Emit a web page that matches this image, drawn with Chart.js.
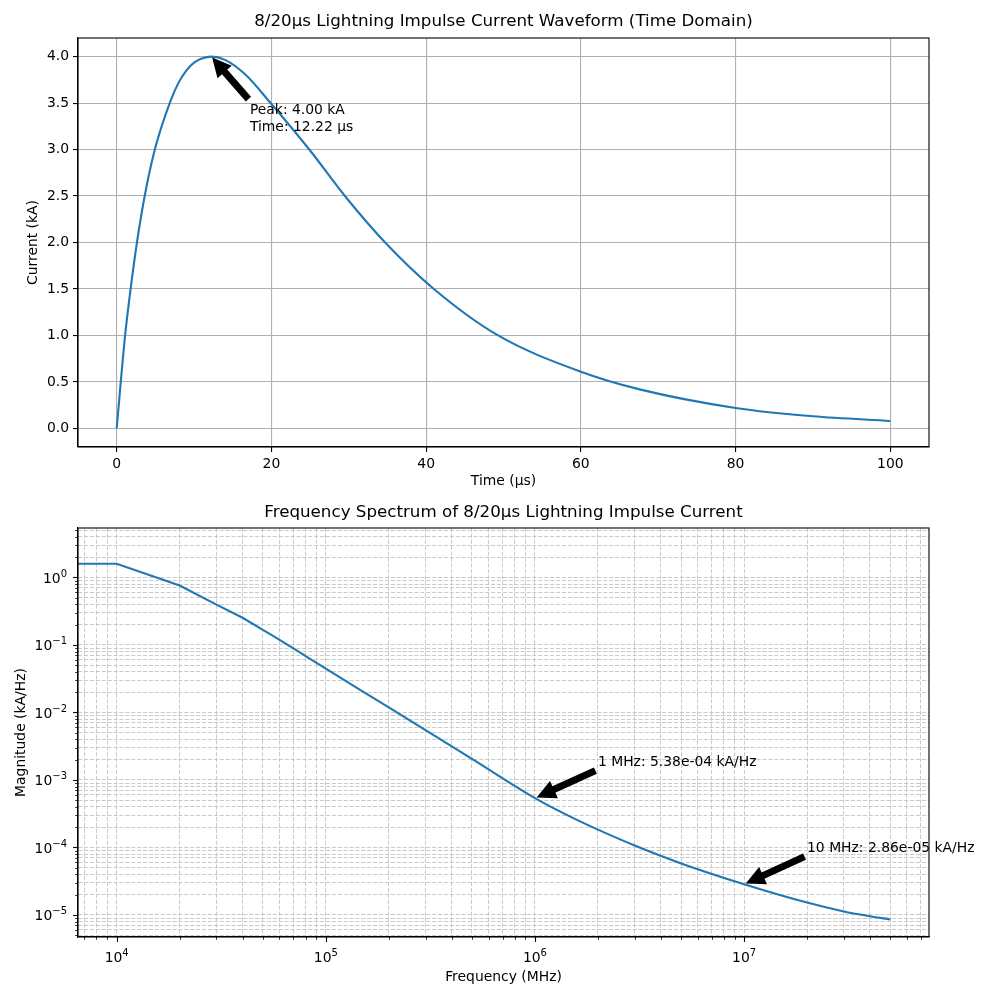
<!DOCTYPE html>
<html>
<head>
<meta charset="utf-8">
<title>8/20µs Lightning Impulse Current</title>
<script src="https://cdn.jsdelivr.net/npm/chart.js@4.4.1/dist/chart.umd.min.js"></script>
<style>
  body { margin: 0; background: #fff; }
  .panel { position: absolute; left: 0; width: 1000px; height: 500px; }
</style>
</head>
<body>
<div class="panel" style="top:0"><canvas id="timeChart" width="1000" height="500"></canvas></div>
<div class="panel" style="top:500px"><canvas id="freqChart" width="1000" height="500"></canvas></div>
<script>
// time domain waveform
const timeUs = [0, 1.09, 1.83, 2.62, 3.62, 4.93, 6.9, 8, 9, 10, 11, 12.22, 14, 16.6, 20, 25, 29.5, 34.7, 41, 49.3, 60, 67.6, 80, 90, 100];
const currentKA = [0, 1.0, 1.52, 2.0, 2.5, 3.0, 3.51, 3.72, 3.85, 3.935, 3.98, 4.0, 3.965, 3.81, 3.49, 2.99, 2.5, 2.0, 1.5, 1.0, 0.61, 0.42, 0.22, 0.13, 0.08];

// spectrum (first entry stands in for the DC bin, off the left of the log axis)
const freqHz = [1e3, 1e4, 2e4, 3e4, 4e4, 5e4, 7e4, 1e5, 2e5, 5e5, 1e6, 1.5e6, 2e6, 3e6, 5e6, 1e7, 2e7, 3e7, 4e7, 5e7];
const magnitude = [1.6, 1.6, 0.76, 0.397, 0.253, 0.168, 0.089, 0.0445, 0.0119, 2.05e-3, 5.38e-4, 2.79e-4, 1.84e-4, 1.07e-4, 5.81e-5, 2.86e-5, 1.53e-5, 1.13e-5, 9.6e-6, 8.6e-6];

// annotated points
const peakTime = 12.22, peakCurrent = 4.0;
const markFreqs = [1e6, 1e7];
const markMags = [5.38e-4, 2.86e-5];
const markNames = ['1 MHz', '10 MHz'];

const FONT = "'DejaVu Sans', sans-serif";
const BLUE = '#1f77b4';

function logTicks(min, max) {
  const out = [];
  for (let e = Math.floor(Math.log10(min)); e <= Math.ceil(Math.log10(max)); e++) {
    for (let k = 1; k <= 9; k++) {
      const v = k * Math.pow(10, e);
      if (v >= min && v <= max) out.push({ value: v, major: k === 1, exp: e });
    }
  }
  return out;
}

function drawArrow(ctx, x0, y0, x1, y1) {
  const dx = x1 - x0, dy = y1 - y0, len = Math.hypot(dx, dy);
  const ux = dx / len, uy = dy / len, px = -uy, py = ux;
  const sx = x0 + ux * len * 0.05, sy = y0 + uy * len * 0.05;
  const ex = x1 - ux * len * 0.05, ey = y1 - uy * len * 0.05;
  const hl = 16.7, hw = 8.35, w = 2.8;
  const bx = ex - ux * hl, by = ey - uy * hl;
  ctx.save();
  ctx.beginPath();
  ctx.moveTo(sx + px * w, sy + py * w);
  ctx.lineTo(bx + px * w, by + py * w);
  ctx.lineTo(bx + px * hw, by + py * hw);
  ctx.lineTo(ex, ey);
  ctx.lineTo(bx - px * hw, by - py * hw);
  ctx.lineTo(bx - px * w, by - py * w);
  ctx.lineTo(sx - px * w, sy - py * w);
  ctx.closePath();
  ctx.fillStyle = '#000';
  ctx.strokeStyle = '#000';
  ctx.lineWidth = 1.4;
  ctx.fill();
  ctx.stroke();
  ctx.restore();
}

// text + arrow, arrow starts at the text box corner nearest the point
const notesPlugin = {
  id: 'notes',
  afterDatasetsDraw(chart, args, opts) {
    const ctx = chart.ctx;
    const xs = chart.scales.x, ys = chart.scales.y;
    const lh = 16.7;
    (opts.items || []).forEach(n => {
      const px = xs.getPixelForValue(n.x), py = ys.getPixelForValue(n.y);
      const tx = xs.getPixelForValue(n.tx), lastBase = ys.getPixelForValue(n.ty);
      ctx.save();
      ctx.font = '13.9px ' + FONT;
      ctx.fillStyle = '#000';
      ctx.textAlign = 'left';
      ctx.textBaseline = 'alphabetic';
      const firstBase = lastBase - (n.lines.length - 1) * lh;
      let wMax = 0;
      n.lines.forEach((s, i) => {
        ctx.fillText(s, tx, firstBase + i * lh);
        wMax = Math.max(wMax, ctx.measureText(s).width);
      });
      ctx.restore();
      const left = tx, right = tx + wMax, top = firstBase - 13.5, bottom = lastBase + 3.5;
      const cx = [left, (left + right) / 2, right].reduce((a, b) => Math.abs(b - px) < Math.abs(a - px) ? b : a);
      const cy = [top, (top + bottom) / 2, bottom].reduce((a, b) => Math.abs(b - py) < Math.abs(a - py) ? b : a);
      drawArrow(ctx, cx, cy, px, py);
    });
  }
};

// "10" with a raised exponent, like matplotlib's mathtext tick labels
function drawPow(ctx, exp, x, base, align) {
  const expStr = String(exp).replace('-', '\u2212');
  ctx.font = '13.9px ' + FONT;
  const w1 = ctx.measureText('10').width;
  ctx.font = '10px ' + FONT;
  const w2 = ctx.measureText(expStr).width;
  const start = align === 'center' ? x - (w1 + w2) / 2 : x - (w1 + w2);
  ctx.font = '13.9px ' + FONT;
  ctx.fillText('10', start, base);
  ctx.font = '10px ' + FONT;
  ctx.fillText(expStr, start + w1, base - 6.3);
}

// title over the plot area, full box round the axes, log tick marks and labels
const framePlugin = {
  id: 'frame',
  afterDatasetsDraw(chart, args, opts) {
    const ctx = chart.ctx, a = chart.chartArea;
    ctx.save();
    ctx.strokeStyle = '#000';
    ctx.fillStyle = '#000';
    ctx.textAlign = 'left';
    ctx.textBaseline = 'alphabetic';
    if (opts.logAxes) {
      const xs = chart.scales.x, ys = chart.scales.y;
      xs.ticks.forEach(t => {
        const x = Math.round(xs.getPixelForValue(t.value)) + 0.5;
        ctx.lineWidth = t.major ? 1.1 : 0.8;
        ctx.beginPath();
        ctx.moveTo(x, a.bottom);
        ctx.lineTo(x, a.bottom + (t.major ? 4.9 : 2.8));
        ctx.stroke();
        if (t.major) drawPow(ctx, t.exp, xs.getPixelForValue(t.value), a.bottom + 25, 'center');
      });
      ys.ticks.forEach(t => {
        const y = Math.round(ys.getPixelForValue(t.value)) + 0.5;
        ctx.lineWidth = t.major ? 1.1 : 0.8;
        ctx.beginPath();
        ctx.moveTo(a.left, y);
        ctx.lineTo(a.left - (t.major ? 4.9 : 2.8), y);
        ctx.stroke();
        if (t.major) drawPow(ctx, t.exp, a.left - 11, ys.getPixelForValue(t.value) + 5.5, 'right');
      });
    }
    ctx.lineWidth = 1.1;
    ctx.strokeRect(a.left, a.top, a.right - a.left, a.bottom - a.top);
    if (opts.title) {
      ctx.font = '16.7px ' + FONT;
      ctx.textAlign = 'center';
      ctx.textBaseline = 'middle';
      ctx.fillText(opts.title, (a.left + a.right) / 2, opts.titleY);
    }
    ctx.restore();
  }
};

const tickFont = { family: FONT, size: 13.9 };

new Chart(document.getElementById('timeChart'), {
  type: 'line',
  data: {
    datasets: [{
      data: timeUs.map((t, i) => ({ x: t, y: currentKA[i] })),
      borderColor: BLUE,
      borderWidth: 2.1,
      pointRadius: 0,
      cubicInterpolationMode: 'monotone',
      fill: false
    }]
  },
  options: {
    responsive: false,
    animation: false,
    devicePixelRatio: 1,
    layout: { padding: { left: 7, right: 71, top: 38, bottom: 0 } },
    plugins: {
      legend: { display: false },
      tooltip: { enabled: false },
      frame: { title: '8/20µs Lightning Impulse Current Waveform (Time Domain)', titleY: 22 },
      notes: {
        items: [{
          x: peakTime, y: peakCurrent,
          tx: peakTime + 5, ty: peakCurrent * 0.8,
          lines: ['Peak: ' + peakCurrent.toFixed(2) + ' kA', 'Time: ' + peakTime.toFixed(2) + ' µs']
        }]
      }
    },
    scales: {
      x: {
        type: 'linear', min: -5, max: 105,
        ticks: { stepSize: 20, includeBounds: false, color: '#000', font: tickFont, padding: 4, maxRotation: 0 },
        grid: { color: '#b0b0b0', lineWidth: 1.1, tickColor: '#000', tickLength: 5, tickWidth: 1.1 },
        border: { color: '#000', width: 1.1 },
        title: { display: true, text: 'Time (µs)', color: '#000', font: tickFont, padding: { top: 0, bottom: 10 } },
        afterFit: s => { s.height = 53; }
      },
      y: {
        type: 'linear', min: -0.2, max: 4.2,
        ticks: { stepSize: 0.5, includeBounds: false, color: '#000', font: tickFont, padding: 4, callback: v => v.toFixed(1) },
        grid: { color: '#b0b0b0', lineWidth: 1.1, tickColor: '#000', tickLength: 5, tickWidth: 1.1 },
        border: { color: '#000', width: 1.1 },
        title: { display: true, text: 'Current (kA)', color: '#000', font: tickFont, padding: { top: 17.7, bottom: 0 } },
        afterFit: s => { s.width = 71; }
      }
    }
  },
  plugins: [framePlugin, notesPlugin]
});

const xMin = 6531, xMax = 7.66e7;
const yMin = 4.72e-6, yMax = 5.41;
const dashGrid = { color: '#c4c4c4', lineWidth: 0.9, drawTicks: false };
const spectrum = freqHz.map((f, i) => ({ x: f, y: magnitude[i] }));

new Chart(document.getElementById('freqChart'), {
  type: 'line',
  data: {
    datasets: [
      // lowest bins: straight segments between the 10 kHz samples
      { data: spectrum.slice(0, 6), borderColor: BLUE, borderWidth: 2.1, pointRadius: 0, tension: 0, fill: false },
      { data: spectrum.slice(5), borderColor: BLUE, borderWidth: 2.1, pointRadius: 0, cubicInterpolationMode: 'monotone', fill: false }
    ]
  },
  options: {
    responsive: false,
    animation: false,
    devicePixelRatio: 1,
    layout: { padding: { left: 7, right: 71, top: 28, bottom: 0 } },
    plugins: {
      legend: { display: false },
      tooltip: { enabled: false },
      frame: { logAxes: true, title: 'Frequency Spectrum of 8/20µs Lightning Impulse Current', titleY: 13 },
      notes: {
        items: markFreqs.map((f, i) => ({
          x: f, y: markMags[i],
          tx: f * 2, ty: markMags[i] * 3,
          lines: [markNames[i] + ': ' + markMags[i].toExponential(2).replace(/e([+-])(\d)$/, 'e$10$2') + ' kA/Hz']
        }))
      }
    },
    scales: {
      x: {
        type: 'logarithmic', min: xMin, max: xMax,
        afterBuildTicks: s => { s.ticks = logTicks(xMin, xMax); },
        ticks: { display: false, autoSkip: false },
        grid: dashGrid,
        border: { color: '#000', width: 1.1, dash: [4.1, 1.8] },
        title: { display: true, text: 'Frequency (MHz)', color: '#000', font: tickFont, padding: { top: 0, bottom: 14.7 } },
        afterFit: s => { s.height = 63; }
      },
      y: {
        type: 'logarithmic', min: yMin, max: yMax,
        afterBuildTicks: s => { s.ticks = logTicks(yMin, yMax); },
        ticks: { display: false, autoSkip: false },
        grid: dashGrid,
        border: { color: '#000', width: 1.1, dash: [4.1, 1.8] },
        title: { display: true, text: 'Magnitude (kA/Hz)', color: '#000', font: tickFont, padding: { top: 5.7, bottom: 0 } },
        afterFit: s => { s.width = 71; }
      }
    }
  },
  plugins: [framePlugin, notesPlugin]
});
</script>
</body>
</html>
